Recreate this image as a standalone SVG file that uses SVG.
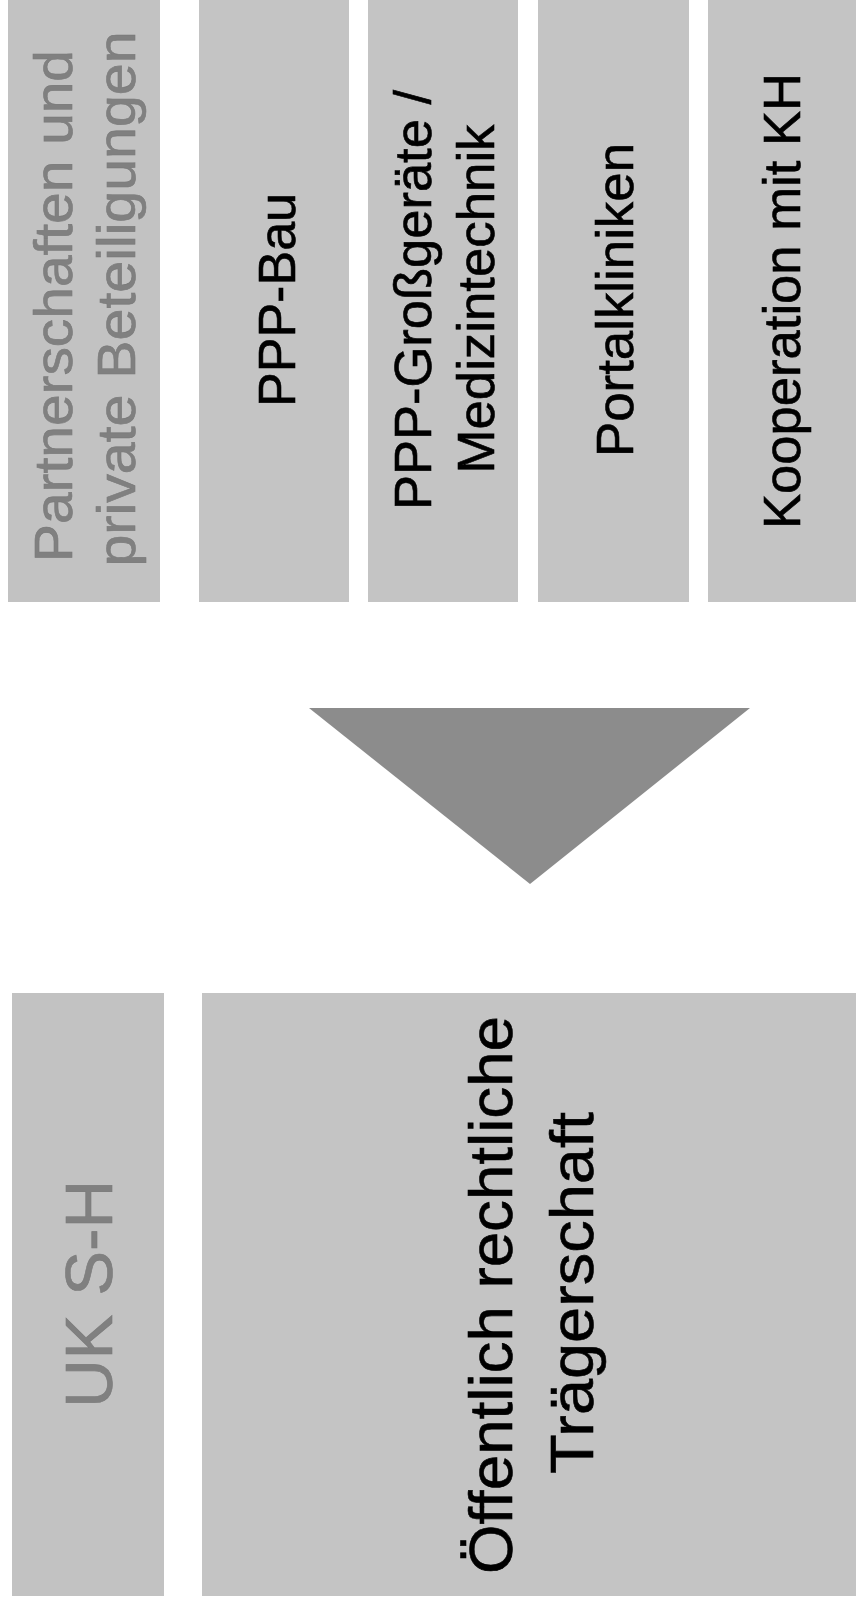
<svg xmlns="http://www.w3.org/2000/svg" width="856" height="1601" viewBox="0 0 856 1601">
  <style>
    .box { fill: #c4c4c4; }
    .hdr { fill: #c2c2c2; }
    .t { font-family: "Liberation Sans", Arial, sans-serif; fill: #000000; stroke: #000000; stroke-width: 0.6; text-anchor: middle; }
    .h { font-family: "Liberation Sans", Arial, sans-serif; fill: #808080; stroke: #7a7a7a; stroke-width: 0.6; text-anchor: middle; }
    .arrow { fill: #8c8c8c; }
  </style>
  <rect x="0" y="0" width="856" height="1601" fill="#ffffff"/>

  <g id="node-partnerschaften">
    <rect class="hdr" x="8" y="0" width="152" height="602"/>
    <g transform="translate(72,306) rotate(-90)">
      <text class="h" x="0" y="0" font-size="54" textLength="512" lengthAdjust="spacingAndGlyphs">Partnerschaften und</text>
    </g>
    <g transform="translate(135,299) rotate(-90)">
      <text class="h" x="0" y="0" font-size="54" textLength="535" lengthAdjust="spacingAndGlyphs">private Beteiligungen</text>
    </g>
  </g>

  <g id="node-ppp-bau">
    <rect class="box" x="199" y="0" width="150" height="602"/>
    <g transform="translate(295,300) rotate(-90)">
      <text class="t" x="0" y="0" font-size="52" textLength="214" lengthAdjust="spacingAndGlyphs">PPP-Bau</text>
    </g>
  </g>

  <g id="node-ppp-grossgeraete">
    <rect class="box" x="368" y="0" width="150" height="602"/>
    <g transform="translate(431,300) rotate(-90)">
      <text class="t" x="0" y="0" font-size="52" textLength="420" lengthAdjust="spacingAndGlyphs">PPP-Großgeräte /</text>
    </g>
    <g transform="translate(494,299) rotate(-90)">
      <text class="t" x="0" y="0" font-size="52" textLength="349" lengthAdjust="spacingAndGlyphs">Medizintechnik</text>
    </g>
  </g>

  <g id="node-portalkliniken">
    <rect class="box" x="538" y="0" width="151" height="602"/>
    <g transform="translate(633,300) rotate(-90)">
      <text class="t" x="0" y="0" font-size="52" textLength="314" lengthAdjust="spacingAndGlyphs">Portalkliniken</text>
    </g>
  </g>

  <g id="node-kooperation">
    <rect class="box" x="708" y="0" width="148" height="602"/>
    <g transform="translate(800,301) rotate(-90)">
      <text class="t" x="0" y="0" font-size="52" textLength="456" lengthAdjust="spacingAndGlyphs">Kooperation mit KH</text>
    </g>
  </g>

  <g id="connectors">
    <polygon class="arrow" points="309,708 750,708 530,884"/>
  </g>

  <g id="node-uksh">
    <rect class="hdr" x="12" y="993" width="152" height="603"/>
    <g transform="translate(112,1294) rotate(-90)">
      <text class="h" x="0" y="0" font-size="66" textLength="228" lengthAdjust="spacingAndGlyphs">UK S-H</text>
    </g>
  </g>

  <g id="node-traegerschaft">
    <rect class="box" x="202" y="993" width="654" height="603"/>
    <g transform="translate(512,1295) rotate(-90)">
      <text class="t" x="0" y="0" font-size="62" textLength="558" lengthAdjust="spacingAndGlyphs">Öffentlich rechtliche</text>
    </g>
    <g transform="translate(593,1293) rotate(-90)">
      <text class="t" x="0" y="0" font-size="62" textLength="362" lengthAdjust="spacingAndGlyphs">Trägerschaft</text>
    </g>
  </g>
</svg>
